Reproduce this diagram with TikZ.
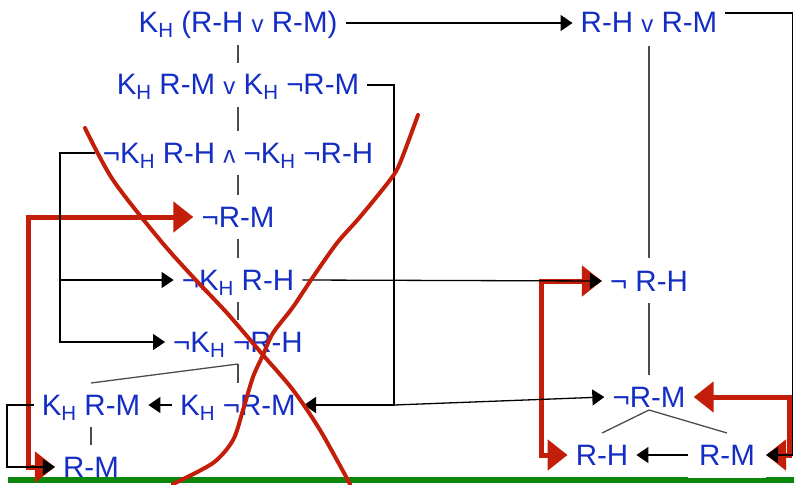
\documentclass[tikz,border=0pt]{standalone}
\usepackage{fontspec}
\setmainfont{Liberation Sans}
\usepackage{xcolor}
\usepackage{graphicx}
\usepackage{tikz}
\usetikzlibrary{arrows.meta,calc}

\definecolor{termblue}{RGB}{20,45,195}
\definecolor{crossred}{RGB}{195,30,10}
\definecolor{groundgreen}{RGB}{10,135,10}

% K with subscript H, and the small connectives
\newcommand{\KH}{K\raisebox{-5pt}{\fontsize{20.5}{20}\selectfont H}}
\newcommand{\orv}{{\fontsize{24}{24}\selectfont v}}
\newcommand{\andv}{\rotatebox[origin=c]{180}{\fontsize{24}{24}\selectfont v}}

\begin{document}
\begin{tikzpicture}[x=1pt,y=-1pt,
    term/.style={text=termblue, font=\fontsize{29.5}{34}\selectfont, text height=21pt, text depth=1pt, inner xsep=8pt, inner ysep=2pt},
    link/.style={draw=black!70, line width=1.3pt},
    fork/.style={link, shorten <=22pt, shorten >=22pt},
    arr/.style={draw=black, line width=1.3pt, -{Triangle[length=12pt,width=16pt]}},
    redarr/.style={draw=crossred, line width=5pt, {Triangle[length=20pt,width=30pt]}-{Triangle[length=20pt,width=30pt]}},
    cross/.style={draw=crossred, line width=4pt, line cap=round}]
    \useasboundingbox (0,0) rectangle (794,484);

    % ground line
    \draw[groundgreen, line width=6.5pt] (8,480) -- (794,480);

    % left derivation
    \node[term] (r1) at (238,23) {\KH{} (R-H \orv{} R-M)};
    \node[term] (r2) at (238,85) {\KH{} R-M \orv{} \KH{} ¬R-M};
    \node[term] (r3) at (238,153) {¬\KH{} R-H \andv{} ¬\KH{} ¬R-H};
    \node[term] (r4) at (238,217) {¬R-M};
    \node[term] (r5) at (238,280) {¬\KH{} R-H};
    \node[term] (r6) at (238,342) {¬\KH{} ¬R-H};
    \node[term] (r7) at (238,405) {\KH{} ¬R-M};
    \node[term] (krm) at (91,405) {\KH{} R-M};
    \node[term] (rm1) at (91,467) {R-M};

    % right derivation
    \node[term] (rhm) at (649,23) {R-H \orv{} R-M};
    \node[term] (nrh) at (649,281) {¬ R-H};
    \node[term] (nrm) at (649,397) {¬R-M};
    \node[term] (rh2) at (602,455) {R-H};
    \node[term, fill=white, inner xsep=11pt, inner ysep=12pt] (rm2) at (727,455) {R-M};

    % rails for the bent connectors
    \coordinate (eastrail) at (792.5,0);
    \coordinate (midrail) at (394,0);
    \coordinate (westrail) at (60,0);
    \coordinate (edgerail) at (7,0);
    \coordinate (redwest) at (28,0);
    \coordinate (redmid) at (541,0);
    \coordinate (redeast) at (789,0);
    \coordinate (rhmout) at ($(rhm.east)+(0,-10)$);

    % red arrows
    \draw[redarr] (r4.west) -- (r4.west -| redwest) |- (rm1.west);
    \draw[redarr] (nrh.west) -- (nrh.west -| redmid) |- (rh2.west);
    \draw[redarr] (nrm.east) -- (nrm.east -| redeast) |- (rm2.east);

    % black arrows
    \draw[arr] (r1.east) -- (rhm.west);
    \draw[arr] (rhmout) -- (rhmout -| eastrail) |- (rm2.east);
    \draw[arr] (r2.east) -- (r2.east -| midrail) |- (r7.east);
    \draw[arr] (r7.east -| midrail) -- (nrm.west);
    \draw[arr] (r3.west) -- (r3.west -| westrail) |- (r6.west);
    \draw[arr] (r5.west -| westrail) -- (r5.west);
    \draw[arr] (r5.east) -- (nrh.west);
    \draw[arr] (r7.west) -- (krm.east);
    \draw[arr] (krm.west) -- (krm.west -| edgerail) |- (rm1.west);
    \draw[arr] (rm2.west) -- (rh2.east);

    % tree links
    \foreach \a/\b in {r1/r2, r2/r3, r3/r4, r4/r5, r5/r6, r6/r7, krm/rm1, nrh/nrm}
      \draw[fork] (\a.center) -- (\b.center);
    \draw[link] ($(r6.center)+(0,22)$) -- ($(krm.center)+(0,-22)$);
    \draw[link] ($(rhm.center)+(0,23)$) -- ($(nrh.center)+(0,-23)$);
    \draw[link] ($(rh2.center)+(0,-22)$) -- ($(nrm.center)+(0,13)$) -- ($(rm2.center)+(0,-22)$);

    % crossing out
    \draw[cross] plot[smooth] coordinates {(85,128) (113,180) (160,240) (193,277) (227,313) (263,355) (293,390) (320,430) (350,484)};
    \draw[cross] plot[smooth] coordinates {(418,115) (400,163) (390,180) (360,217) (337,243) (313,277) (293,307) (273,333) (263,355) (253,377) (243,410) (233,440) (213,463) (173,484)};
\end{tikzpicture}
\end{document}
